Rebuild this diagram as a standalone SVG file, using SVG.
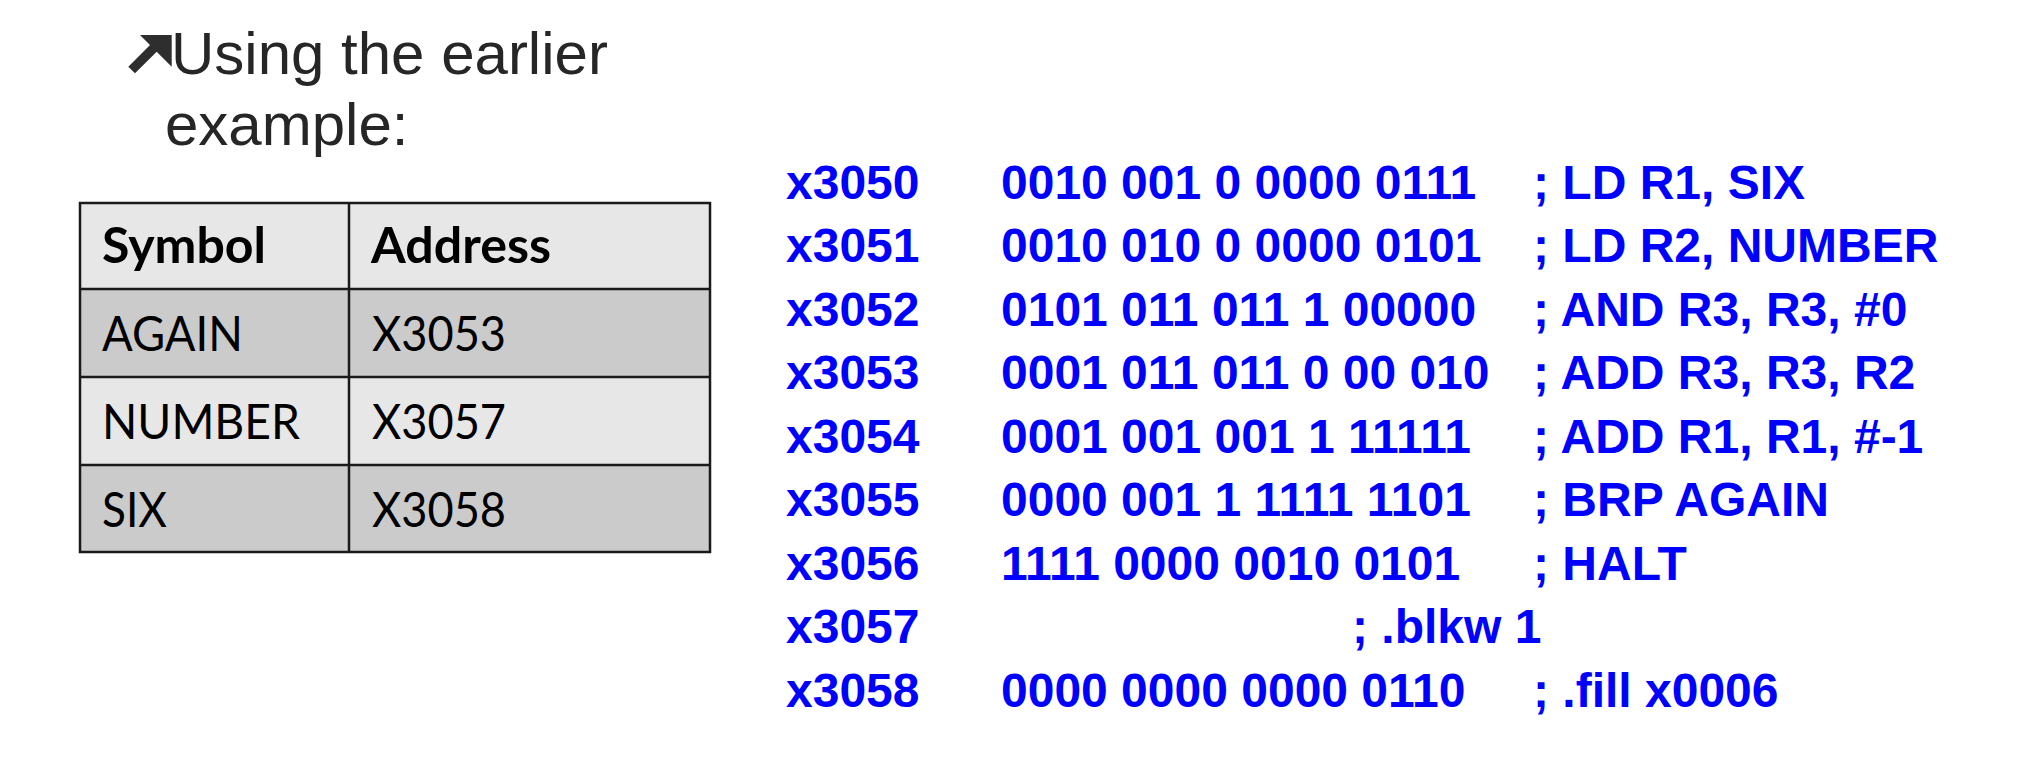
<svg xmlns="http://www.w3.org/2000/svg" width="2026" height="784" viewBox="0 0 2026 784">
<style>
.title{font-family:"Liberation Sans",Arial,sans-serif;font-size:60px;fill:#262626}
.cell{font-family:Lato,"Open Sans",sans-serif;font-size:49px;fill:#000}
.hdr{font-weight:bold}
.grid{stroke:#1a1a1a;stroke-width:2.5;fill:none}
.light{fill:#e7e7e7}
.dark{fill:#cbcbcb}
.code{font-family:"Liberation Sans",Arial,sans-serif;font-weight:bold;font-size:48px;fill:#0000ff}
</style>
<rect width="2026" height="784" fill="#ffffff"/>
<g id="title">
  <polygon points="140,35 171.7,35 171.7,66.7 156.7,51.7 135,73.3 128.3,66.7 150,45" fill="#2e2e2e"/>
  <text class="title" x="171" y="74">Using the earlier</text>
  <text class="title" x="165" y="145">example:</text>
</g>
<g id="symbol-table">
  <rect class="light" x="80" y="203" width="630" height="86"/>
  <rect class="dark" x="80" y="289" width="630" height="88"/>
  <rect class="light" x="80" y="377" width="630" height="88"/>
  <rect class="dark" x="80" y="465" width="630" height="87"/>
  <g class="grid">
    <rect x="80" y="203" width="630" height="349"/>
    <line x1="80" y1="289" x2="710" y2="289"/>
    <line x1="80" y1="377" x2="710" y2="377"/>
    <line x1="80" y1="465" x2="710" y2="465"/>
    <line x1="349" y1="203" x2="349" y2="552"/>
  </g>
  <g id="row-header">
    <text class="cell hdr" x="102" y="263" textLength="164" lengthAdjust="spacingAndGlyphs">Symbol</text>
    <text class="cell hdr" x="371" y="263" textLength="180" lengthAdjust="spacingAndGlyphs">Address</text>
  </g>
  <g id="row-again">
    <text class="cell" x="102" y="351" textLength="141" lengthAdjust="spacingAndGlyphs">AGAIN</text>
    <text class="cell" x="372" y="351" textLength="134" lengthAdjust="spacingAndGlyphs">X3053</text>
  </g>
  <g id="row-number">
    <text class="cell" x="102" y="439" textLength="198" lengthAdjust="spacingAndGlyphs">NUMBER</text>
    <text class="cell" x="372" y="439" textLength="134" lengthAdjust="spacingAndGlyphs">X3057</text>
  </g>
  <g id="row-six">
    <text class="cell" x="102" y="527" textLength="65" lengthAdjust="spacingAndGlyphs">SIX</text>
    <text class="cell" x="372" y="527" textLength="134" lengthAdjust="spacingAndGlyphs">X3058</text>
  </g>
</g>
<g id="code-listing">
  <g id="line-x3050"><text class="code" x="786" y="198.5">x3050</text><text class="code" x="1001" y="198.5">0010 001 0 0000 0111</text><text class="code" x="1533" y="198.5">; LD R1, SIX</text></g>
  <g id="line-x3051"><text class="code" x="786" y="262">x3051</text><text class="code" x="1001" y="262">0010 010 0 0000 0101</text><text class="code" x="1533" y="262">; LD R2, NUMBER</text></g>
  <g id="line-x3052"><text class="code" x="786" y="325.5">x3052</text><text class="code" x="1001" y="325.5">0101 011 011 1 00000</text><text class="code" x="1533" y="325.5">; AND R3, R3, #0</text></g>
  <g id="line-x3053"><text class="code" x="786" y="389">x3053</text><text class="code" x="1001" y="389">0001 011 011 0 00 010</text><text class="code" x="1533" y="389">; ADD R3, R3, R2</text></g>
  <g id="line-x3054"><text class="code" x="786" y="452.5">x3054</text><text class="code" x="1001" y="452.5">0001 001 001 1 11111</text><text class="code" x="1533" y="452.5">; ADD R1, R1, #-1</text></g>
  <g id="line-x3055"><text class="code" x="786" y="516">x3055</text><text class="code" x="1001" y="516">0000 001 1 1111 1101</text><text class="code" x="1533" y="516">; BRP AGAIN</text></g>
  <g id="line-x3056"><text class="code" x="786" y="579.5">x3056</text><text class="code" x="1001" y="579.5">1111 0000 0010 0101</text><text class="code" x="1533" y="579.5">; HALT</text></g>
  <g id="line-x3057"><text class="code" x="786" y="643">x3057</text><text class="code" x="1352" y="643">; .blkw 1</text></g>
  <g id="line-x3058"><text class="code" x="786" y="706.5">x3058</text><text class="code" x="1001" y="706.5">0000 0000 0000 0110</text><text class="code" x="1533" y="706.5">; .fill x0006</text></g>
</g>
</svg>
